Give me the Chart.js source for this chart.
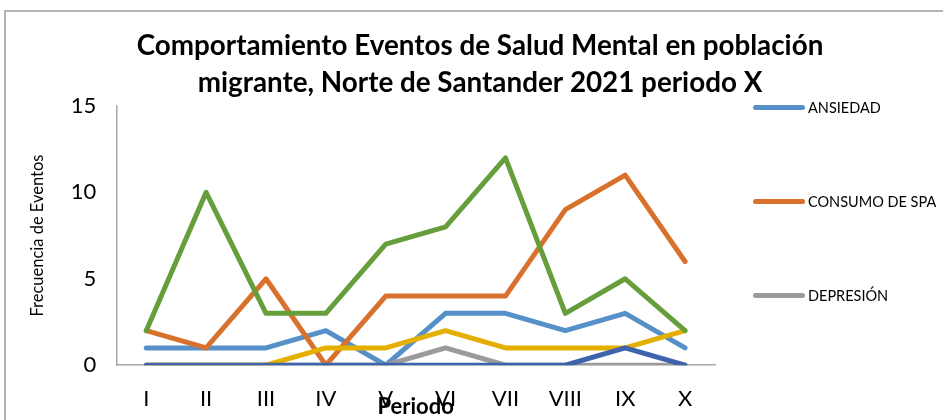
<!DOCTYPE html>
<html>
<head>
<meta charset="utf-8">
<title>Salud Mental población migrante</title>
<script src="https://cdn.jsdelivr.net/npm/chart.js@4"></script>
<style>
  html, body { margin: 0; padding: 0; background: #fff; width: 943px; height: 420px; overflow: hidden; }
  #frame { position: absolute; left: 4px; top: 10px; width: 948px; height: 440px;
           border-left: 2px solid #B4B4B4; border-top: 2px solid #B4B4B4; }
  #chart { display: block; }
  #legend { position: absolute; left: 753px; top: 96px; font-family: Lato, sans-serif; font-size: 14.5px; color: #000; }
  .item { display: flex; align-items: center; height: 22px; margin-bottom: 72px; }
  .swatch { width: 52px; height: 5px; border-radius: 3px; margin-right: 3px; }
</style>
</head>
<body>
<div id="frame"><canvas id="chart" width="948" height="440"></canvas></div>
<div id="legend"></div>
<script>
// data
const periods = ['I', 'II', 'III', 'IV', 'V', 'VI', 'VII', 'VIII', 'IX', 'X'];
const seriesNames = ['ANSIEDAD', 'CONSUMO DE SPA', 'DEPRESIÓN', 'ESQUIZOFRENIA', 'INTENTO DE SUICIDIO', 'TRASTORNO BIPOLAR'];
const ansiedad = [1, 1, 1, 2, 0, 3, 3, 2, 3, 1];
const consumoSpa = [2, 1, 5, 0, 4, 4, 4, 9, 11, 6];
const depresion = [0, 0, 0, 0, 0, 1, 0, 0, 0, 0];
const esquizofrenia = [0, 0, 0, 1, 1, 2, 1, 1, 1, 2];
const intentoSuicidio = [2, 10, 3, 3, 7, 8, 12, 3, 5, 2];
const trastornoBipolar = [0, 0, 0, 0, 0, 0, 0, 0, 1, 0];
const yTicks = [0, 5, 10, 15];

const seriesValues = [ansiedad, consumoSpa, depresion, esquizofrenia, intentoSuicidio, trastornoBipolar];
const colors = ['#5590C8', '#D8712C', '#9B9B9B', '#E5AF00', '#669E3B', '#3E64AE'];
const font = 'Lato, sans-serif';

const datasets = seriesValues.map((vals, i) => ({
    label: seriesNames[i],
    data: vals,
    borderColor: colors[i],
    backgroundColor: colors[i],
    borderWidth: 5,
    borderCapStyle: 'round',
    borderJoinStyle: 'round',
    pointRadius: 0,
    tension: 0,
    order: seriesValues.length - i   // later series drawn on top, like Excel
}));

// the title is centred on the whole frame, not on the plot + padding
const centerTitle = {
    id: 'centerTitle',
    afterLayout(chart) {
        if (chart.titleBlock) {
            chart.titleBlock.left = 0;
            chart.titleBlock.right = chart.width;
        }
    }
};

const ctx = document.getElementById('chart').getContext('2d');
const chart = new Chart(ctx, {
    type: 'line',
    data: { labels: periods, datasets: datasets },
    plugins: [centerTitle],
    options: {
        responsive: false,
        animation: false,
        layout: { padding: { left: 14, right: 239, top: 0, bottom: 28 } },
        plugins: {
            legend: { display: false },
            tooltip: { enabled: false },
            title: {
                display: true,
                text: ['Comportamiento Eventos de Salud Mental en población', 'migrante, Norte de Santander 2021 periodo X'],
                color: '#000',
                font: { family: font, size: 27.8, weight: 'bold', lineHeight: 1.33 },
                padding: { top: 16, bottom: 4 }
            }
        },
        scales: {
            x: {
                offset: true,
                grid: { display: false },
                border: { display: true, color: '#A8A8A8', width: 1.5 },
                ticks: { color: '#000', font: { family: font, size: 22 }, padding: 13, maxRotation: 0 },
                title: {
                    display: true,
                    text: 'Periodo',
                    color: '#000',
                    font: { family: font, size: 22, weight: 'bold' },
                    padding: { top: -32, bottom: 4 }
                }
            },
            y: {
                min: yTicks[0],
                max: yTicks[yTicks.length - 1],
                grid: { display: false },
                border: { display: true, color: '#A8A8A8', width: 1.5 },
                ticks: { stepSize: yTicks[1] - yTicks[0], color: '#000', font: { family: font, size: 22 }, padding: 12 },
                title: {
                    display: true,
                    text: 'Frecuencia de Eventos',
                    color: '#000',
                    font: { family: font, size: 16.5 },
                    padding: { top: 8, bottom: 11 }
                }
            }
        }
    }
});

// legend as html; only the first three entries fit inside the cropped frame
const legend = document.getElementById('legend');
chart.data.datasets.slice(0, 3).forEach(ds => {
    const item = document.createElement('div');
    item.className = 'item';
    const sw = document.createElement('span');
    sw.className = 'swatch';
    sw.style.background = ds.borderColor;
    const txt = document.createElement('span');
    txt.textContent = ds.label;
    item.appendChild(sw);
    item.appendChild(txt);
    legend.appendChild(item);
});
</script>
</body>
</html>
